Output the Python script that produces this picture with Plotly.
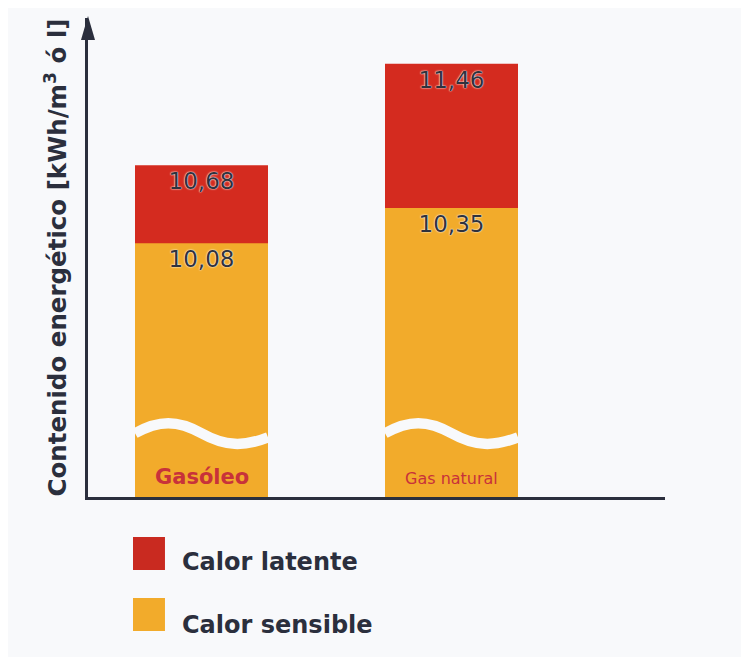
import plotly.graph_objects as go

categories = ["Gasóleo", "Gas natural"]
calor_sensible = [10.08, 10.35]
total = [10.68, 11.46]          # sensible + latente
series_names = ["Calor latente", "Calor sensible"]
y_title = "Contenido energético [kWh/m<sup>3</sup> ó l]"

RED = "#d42b1f"
ORANGE = "#f2ab2b"
DARK = "#2b2f3d"
BG = "#f8f9fb"
x_pos = list(range(len(categories)))
BAR_W = 0.532

fig = go.Figure()
label_font = dict(family="DejaVu Sans", size=23, color="#2f323d",
                  shadow="0 0 2px #ffffff, 0 0 1px #ffffff")
for vals, name, col in [(total, series_names[0], RED), (calor_sensible, series_names[1], ORANGE)]:
    fig.add_trace(go.Bar(x=x_pos, y=vals, name=name, marker_color=col,
                         marker_line_width=0, width=BAR_W,
                         texttemplate="%{y:.2f}", textposition="inside",
                         insidetextanchor="end", textangle=0,
                         textfont=label_font, insidetextfont=label_font,
                         showlegend=False))

shapes = []
# axis-break waves (decoration)
m, A = 0.133, 0.021
h = 4 * A / 3
for i in x_pos:
    x0 = i - BAR_W / 2
    w = BAR_W
    path = (f"M {x0},{m} C {x0+0.18*w},{m+h} {x0+0.32*w},{m+h} {x0+0.5*w},{m} "
            f"C {x0+0.68*w},{m-h} {x0+0.82*w},{m-h} {x0+w},{m-0.4*A}")
    shapes.append(dict(type="path", path=path, xref="x", yref="paper",
                       line=dict(color=BG, width=10.5), layer="above"))

# arrowhead on the y axis
shapes.append(dict(type="path", xref="paper", yref="paper",
                   xsizemode="pixel", ysizemode="pixel", xanchor=0, yanchor=1,
                   path="M -7,-22 L 0,2 L 7,-22 Z", fillcolor=DARK, line_width=0))

# manual legend swatches
shapes.append(dict(type="rect", xref="paper", yref="paper", x0=0.078, x1=0.1334,
                   y0=-0.1524, y1=-0.0835, fillcolor="#c92a20", line_width=0))
shapes.append(dict(type="rect", xref="paper", yref="paper", x0=0.078, x1=0.1334,
                   y0=-0.2797, y1=-0.2109, fillcolor=ORANGE, line_width=0))

annotations = [
    dict(x=x_pos[0], y=0, xref="x", yref="paper", yanchor="bottom", yshift=6,
         text=categories[0], showarrow=False,
         font=dict(family="DejaVu Sans", size=21, color="#c8323a", weight="bold")),
    dict(x=x_pos[1], y=0, xref="x", yref="paper", yanchor="bottom", yshift=7,
         text=categories[1], showarrow=False,
         font=dict(family="DejaVu Sans", size=16, color="#c8323a")),
    dict(x=0.1594, y=-0.1357, xref="paper", yref="paper", xanchor="left", yanchor="middle",
         text=series_names[0], showarrow=False,
         font=dict(family="DejaVu Sans", size=24, color=DARK, weight="bold")),
    dict(x=0.1594, y=-0.2672, xref="paper", yref="paper", xanchor="left", yanchor="middle",
         text=series_names[1], showarrow=False,
         font=dict(family="DejaVu Sans", size=24, color=DARK, weight="bold")),
]

fig.update_layout(
    width=741, height=649,
    margin=dict(l=80, r=84, t=10, b=160),
    paper_bgcolor=BG, plot_bgcolor=BG,
    barmode="overlay", separators=",.",
    showlegend=False,
    shapes=shapes, annotations=annotations,
    xaxis=dict(range=[-0.454, 1.854], showgrid=False, zeroline=False,
               showticklabels=False, ticks="", showline=True, linecolor=DARK, linewidth=3),
    yaxis=dict(range=[8.127, 11.812], showgrid=False, zeroline=False,
               showticklabels=False, ticks="", showline=True, linecolor=DARK, linewidth=3,
               title=dict(text=y_title, standoff=12,
                          font=dict(family="DejaVu Sans", size=24.5, color=DARK, weight="bold"))),
)

fig.write_html("out.html")
